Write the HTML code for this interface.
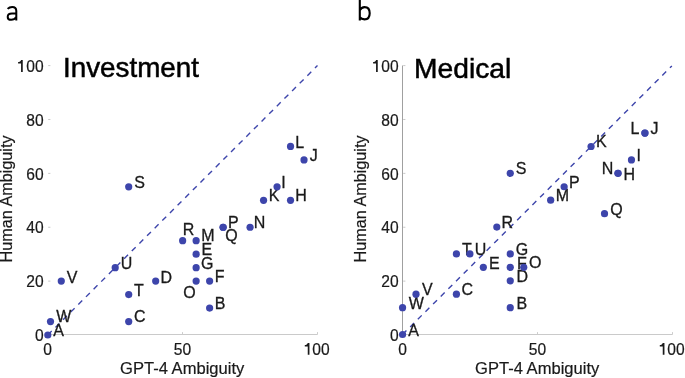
<!DOCTYPE html>
<html><head><meta charset="utf-8"><style>
html,body{margin:0;padding:0;background:#fff;}
svg{display:block;will-change:transform;}
text{font-family:"Liberation Sans",sans-serif;fill:#1a1a1a;}
.lb{stroke:#1a1a1a;stroke-width:0.3px;}
.tk{stroke:#1a1a1a;stroke-width:0.2px;}
.tt{stroke:#000;fill:#000;stroke-width:0.5px;}
</style></head><body>
<svg width="685" height="378" viewBox="0 0 685 378">
<rect width="685" height="378" fill="#fff"/>
<line x1="47.5" y1="334.5" x2="317.5" y2="334.5" stroke="#cacaca" stroke-width="1.15"/>
<line x1="48.2" y1="335.00" x2="50.4" y2="335.00" stroke="#c8c8c8" stroke-width="1"/>
<line x1="48.2" y1="281.12" x2="50.4" y2="281.12" stroke="#c8c8c8" stroke-width="1"/>
<line x1="48.2" y1="227.24" x2="50.4" y2="227.24" stroke="#c8c8c8" stroke-width="1"/>
<line x1="48.2" y1="173.36" x2="50.4" y2="173.36" stroke="#c8c8c8" stroke-width="1"/>
<line x1="48.2" y1="119.48" x2="50.4" y2="119.48" stroke="#c8c8c8" stroke-width="1"/>
<line x1="48.2" y1="65.60" x2="50.4" y2="65.60" stroke="#c8c8c8" stroke-width="1"/>
<line x1="47.5" y1="334.5" x2="47.5" y2="332.1" stroke="#cdcdcd" stroke-width="1"/>
<line x1="182.5" y1="334.5" x2="182.5" y2="332.1" stroke="#cdcdcd" stroke-width="1"/>
<line x1="317.5" y1="334.5" x2="317.5" y2="332.1" stroke="#cdcdcd" stroke-width="1"/>
<text x="43.61" y="341.22" font-size="15.6" text-anchor="end" class="tk">0</text>
<text x="43.61" y="287.34" font-size="15.6" text-anchor="end" class="tk">20</text>
<text x="43.61" y="233.46" font-size="15.6" text-anchor="end" class="tk">40</text>
<text x="43.61" y="179.58" font-size="15.6" text-anchor="end" class="tk">60</text>
<text x="43.61" y="125.70" font-size="15.6" text-anchor="end" class="tk">80</text>
<text x="43.61" y="71.82" font-size="15.6" text-anchor="end" class="tk">00</text>
<path d="M21.05,59.90 L22.75,59.90 L22.75,71.90 L21.05,71.90 L21.05,63.50 L18.10,63.50 L18.10,62.00 C19.60,62.00 20.70,61.20 21.05,59.90 Z" fill="#1a1a1a"/>
<text x="47.50" y="355.00" font-size="15.6" text-anchor="middle" class="tk">0</text>
<text x="182.50" y="355.00" font-size="15.6" text-anchor="middle" class="tk">50</text>
<text x="312.29" y="355.00" font-size="15.6" text-anchor="start" class="tk">00</text>
<path d="M307.75,343.00 L309.45,343.00 L309.45,354.70 L307.75,354.70 L307.75,346.60 L304.80,346.60 L304.80,345.10 C306.30,345.10 307.40,344.30 307.75,343.00 Z" fill="#1a1a1a"/>
<line x1="47.80" y1="335.00" x2="317.50" y2="65.60" stroke="#3d45ab" stroke-width="1.4" stroke-dasharray="5.5 5.29"/>
<text font-size="16.0" text-anchor="start" transform="translate(53.17,335.70) scale(1.0,1.08)" class="lb">A</text>
<text font-size="16.0" text-anchor="start" transform="translate(56.13,321.90) scale(1.0,1.08)" class="lb">W</text>
<text font-size="16.0" text-anchor="start" transform="translate(66.63,282.60) scale(1.0,1.08)" class="lb">V</text>
<text font-size="16.0" text-anchor="start" transform="translate(120.77,269.20) scale(1.0,1.08)" class="lb">U</text>
<text font-size="16.0" text-anchor="start" transform="translate(134.04,295.70) scale(1.0,1.08)" class="lb">T</text>
<text font-size="16.0" text-anchor="start" transform="translate(133.99,322.20) scale(1.0,1.08)" class="lb">C</text>
<text font-size="16.0" text-anchor="start" transform="translate(134.17,187.90) scale(1.0,1.08)" class="lb">S</text>
<text font-size="16.0" text-anchor="start" transform="translate(160.39,282.70) scale(1.0,1.08)" class="lb">D</text>
<text font-size="16.0" text-anchor="start" transform="translate(182.69,235.20) scale(1.0,1.08)" class="lb">R</text>
<text font-size="16.0" text-anchor="start" transform="translate(201.29,241.10) scale(1.0,1.08)" class="lb">M</text>
<text font-size="16.0" text-anchor="start" transform="translate(201.39,254.60) scale(1.0,1.08)" class="lb">E</text>
<text font-size="16.0" text-anchor="start" transform="translate(200.90,268.50) scale(1.0,1.08)" class="lb">G</text>
<text font-size="16.0" text-anchor="start" transform="translate(183.14,298.20) scale(1.0,1.08)" class="lb">O</text>
<text font-size="16.0" text-anchor="start" transform="translate(214.69,281.50) scale(1.0,1.08)" class="lb">F</text>
<text font-size="16.0" text-anchor="start" transform="translate(214.69,308.50) scale(1.0,1.08)" class="lb">B</text>
<text font-size="16.0" text-anchor="start" transform="translate(227.99,227.60) scale(1.0,1.08)" class="lb">P</text>
<text font-size="16.0" text-anchor="start" transform="translate(225.34,240.80) scale(1.0,1.08)" class="lb">Q</text>
<text font-size="16.0" text-anchor="start" transform="translate(253.79,227.50) scale(1.0,1.08)" class="lb">N</text>
<text font-size="16.0" text-anchor="start" transform="translate(268.79,201.40) scale(1.0,1.08)" class="lb">K</text>
<text font-size="16.0" text-anchor="start" transform="translate(295.29,201.40) scale(1.0,1.08)" class="lb">H</text>
<text font-size="16.0" text-anchor="start" transform="translate(281.32,188.10) scale(1.0,1.08)" class="lb">I</text>
<text font-size="16.0" text-anchor="start" transform="translate(295.29,147.90) scale(1.0,1.08)" class="lb">L</text>
<text font-size="16.0" text-anchor="start" transform="translate(309.65,161.20) scale(1.0,1.08)" class="lb">J</text>
<circle cx="47.80" cy="335.00" r="3.6" fill="#3d45ab"/>
<circle cx="50.50" cy="321.53" r="3.6" fill="#3d45ab"/>
<circle cx="61.28" cy="281.12" r="3.6" fill="#3d45ab"/>
<circle cx="115.22" cy="267.65" r="3.6" fill="#3d45ab"/>
<circle cx="128.71" cy="294.59" r="3.6" fill="#3d45ab"/>
<circle cx="128.71" cy="321.53" r="3.6" fill="#3d45ab"/>
<circle cx="128.71" cy="186.83" r="3.6" fill="#3d45ab"/>
<circle cx="155.68" cy="281.12" r="3.6" fill="#3d45ab"/>
<circle cx="182.65" cy="240.71" r="3.6" fill="#3d45ab"/>
<circle cx="196.13" cy="240.71" r="3.6" fill="#3d45ab"/>
<circle cx="196.13" cy="254.18" r="3.6" fill="#3d45ab"/>
<circle cx="196.13" cy="267.65" r="3.6" fill="#3d45ab"/>
<circle cx="196.13" cy="281.12" r="3.6" fill="#3d45ab"/>
<circle cx="209.62" cy="281.12" r="3.6" fill="#3d45ab"/>
<circle cx="209.62" cy="308.06" r="3.6" fill="#3d45ab"/>
<circle cx="223.11" cy="227.24" r="3.6" fill="#3d45ab"/>
<circle cx="223.11" cy="227.24" r="3.6" fill="#3d45ab"/>
<circle cx="250.07" cy="227.24" r="3.6" fill="#3d45ab"/>
<circle cx="263.56" cy="200.30" r="3.6" fill="#3d45ab"/>
<circle cx="290.53" cy="200.30" r="3.6" fill="#3d45ab"/>
<circle cx="277.05" cy="186.83" r="3.6" fill="#3d45ab"/>
<circle cx="290.53" cy="146.42" r="3.6" fill="#3d45ab"/>
<circle cx="304.02" cy="159.89" r="3.6" fill="#3d45ab"/>
<text font-size="16.4" text-anchor="middle" transform="translate(182.20,374.10) scale(1.01,1.0)" class="tk">GPT-4 Ambiguity</text>
<text x="0" y="0" font-size="16.4" text-anchor="middle" class="tk" transform="translate(11.8,198.95) rotate(-90) scale(0.99,1)">Human Ambiguity</text>
<text font-size="27" text-anchor="start" transform="translate(63.00,77.00) scale(1.03,1.0)" class="tt">Investment</text>
<line x1="402.5" y1="334.5" x2="672.5" y2="334.5" stroke="#cacaca" stroke-width="1.15"/>
<line x1="402.5" y1="334.5" x2="402.5" y2="65.5" stroke="#a0a0a0" stroke-width="1"/>
<line x1="403.2" y1="335.00" x2="405.4" y2="335.00" stroke="#c8c8c8" stroke-width="1"/>
<line x1="403.2" y1="281.12" x2="405.4" y2="281.12" stroke="#c8c8c8" stroke-width="1"/>
<line x1="403.2" y1="227.24" x2="405.4" y2="227.24" stroke="#c8c8c8" stroke-width="1"/>
<line x1="403.2" y1="173.36" x2="405.4" y2="173.36" stroke="#c8c8c8" stroke-width="1"/>
<line x1="403.2" y1="119.48" x2="405.4" y2="119.48" stroke="#c8c8c8" stroke-width="1"/>
<line x1="403.2" y1="65.60" x2="405.4" y2="65.60" stroke="#c8c8c8" stroke-width="1"/>
<line x1="402.5" y1="334.5" x2="402.5" y2="332.1" stroke="#cdcdcd" stroke-width="1"/>
<line x1="537.5" y1="334.5" x2="537.5" y2="332.1" stroke="#cdcdcd" stroke-width="1"/>
<line x1="672.5" y1="334.5" x2="672.5" y2="332.1" stroke="#cdcdcd" stroke-width="1"/>
<text x="398.61" y="341.22" font-size="15.6" text-anchor="end" class="tk">0</text>
<text x="398.61" y="287.34" font-size="15.6" text-anchor="end" class="tk">20</text>
<text x="398.61" y="233.46" font-size="15.6" text-anchor="end" class="tk">40</text>
<text x="398.61" y="179.58" font-size="15.6" text-anchor="end" class="tk">60</text>
<text x="398.61" y="125.70" font-size="15.6" text-anchor="end" class="tk">80</text>
<text x="398.61" y="71.82" font-size="15.6" text-anchor="end" class="tk">00</text>
<path d="M376.05,59.90 L377.75,59.90 L377.75,71.90 L376.05,71.90 L376.05,63.50 L373.10,63.50 L373.10,62.00 C374.60,62.00 375.70,61.20 376.05,59.90 Z" fill="#1a1a1a"/>
<text x="402.50" y="355.00" font-size="15.6" text-anchor="middle" class="tk">0</text>
<text x="537.50" y="355.00" font-size="15.6" text-anchor="middle" class="tk">50</text>
<text x="667.29" y="355.00" font-size="15.6" text-anchor="start" class="tk">00</text>
<path d="M662.75,343.00 L664.45,343.00 L664.45,354.70 L662.75,354.70 L662.75,346.60 L659.80,346.60 L659.80,345.10 C661.30,345.10 662.40,344.30 662.75,343.00 Z" fill="#1a1a1a"/>
<line x1="402.55" y1="334.50" x2="671.85" y2="65.90" stroke="#3d45ab" stroke-width="1.4" stroke-dasharray="5.5 5.29"/>
<text font-size="16.0" text-anchor="start" transform="translate(408.37,335.50) scale(1.0,1.05)" class="lb">A</text>
<text font-size="16.0" text-anchor="start" transform="translate(408.63,308.90) scale(1.0,1.05)" class="lb">W</text>
<text font-size="16.0" text-anchor="start" transform="translate(422.03,295.00) scale(1.0,1.05)" class="lb">V</text>
<text font-size="16.0" text-anchor="start" transform="translate(461.59,295.00) scale(1.0,1.05)" class="lb">C</text>
<text font-size="16.0" text-anchor="start" transform="translate(462.04,255.20) scale(1.0,1.05)" class="lb">T</text>
<text font-size="16.0" text-anchor="start" transform="translate(474.87,254.80) scale(1.0,1.05)" class="lb">U</text>
<text font-size="16.0" text-anchor="start" transform="translate(489.09,268.60) scale(1.0,1.05)" class="lb">E</text>
<text font-size="16.0" text-anchor="start" transform="translate(515.80,254.80) scale(1.0,1.05)" class="lb">G</text>
<text font-size="16.0" text-anchor="start" transform="translate(516.99,268.60) scale(1.0,1.05)" class="lb">F</text>
<text font-size="16.0" text-anchor="start" transform="translate(528.94,268.40) scale(1.0,1.05)" class="lb">O</text>
<text font-size="16.0" text-anchor="start" transform="translate(516.49,281.90) scale(1.0,1.05)" class="lb">D</text>
<text font-size="16.0" text-anchor="start" transform="translate(516.49,308.60) scale(1.0,1.05)" class="lb">B</text>
<text font-size="16.0" text-anchor="start" transform="translate(501.49,228.10) scale(1.0,1.05)" class="lb">R</text>
<text font-size="16.0" text-anchor="start" transform="translate(515.87,174.10) scale(1.0,1.05)" class="lb">S</text>
<text font-size="16.0" text-anchor="start" transform="translate(555.79,201.20) scale(1.0,1.05)" class="lb">M</text>
<text font-size="16.0" text-anchor="start" transform="translate(568.89,188.10) scale(1.0,1.05)" class="lb">P</text>
<text font-size="16.0" text-anchor="start" transform="translate(596.09,147.20) scale(1.0,1.05)" class="lb">K</text>
<text font-size="16.0" text-anchor="start" transform="translate(630.39,134.00) scale(1.0,1.05)" class="lb">L</text>
<text font-size="16.0" text-anchor="start" transform="translate(650.45,134.00) scale(1.0,1.05)" class="lb">J</text>
<text font-size="16.0" text-anchor="start" transform="translate(636.52,160.50) scale(1.0,1.05)" class="lb">I</text>
<text font-size="16.0" text-anchor="start" transform="translate(601.79,174.30) scale(1.0,1.05)" class="lb">N</text>
<text font-size="16.0" text-anchor="start" transform="translate(623.39,180.20) scale(1.0,1.05)" class="lb">H</text>
<text font-size="16.0" text-anchor="start" transform="translate(610.34,214.80) scale(1.0,1.05)" class="lb">Q</text>
<circle cx="402.55" cy="334.50" r="3.6" fill="#3d45ab"/>
<circle cx="402.55" cy="307.64" r="3.6" fill="#3d45ab"/>
<circle cx="416.01" cy="294.21" r="3.6" fill="#3d45ab"/>
<circle cx="456.41" cy="294.21" r="3.6" fill="#3d45ab"/>
<circle cx="456.41" cy="253.92" r="3.6" fill="#3d45ab"/>
<circle cx="469.88" cy="253.92" r="3.6" fill="#3d45ab"/>
<circle cx="483.34" cy="267.35" r="3.6" fill="#3d45ab"/>
<circle cx="510.27" cy="253.92" r="3.6" fill="#3d45ab"/>
<circle cx="510.27" cy="267.35" r="3.6" fill="#3d45ab"/>
<circle cx="523.74" cy="267.35" r="3.6" fill="#3d45ab"/>
<circle cx="510.27" cy="280.78" r="3.6" fill="#3d45ab"/>
<circle cx="510.27" cy="307.64" r="3.6" fill="#3d45ab"/>
<circle cx="496.81" cy="227.06" r="3.6" fill="#3d45ab"/>
<circle cx="510.27" cy="173.34" r="3.6" fill="#3d45ab"/>
<circle cx="550.66" cy="200.20" r="3.6" fill="#3d45ab"/>
<circle cx="564.13" cy="186.77" r="3.6" fill="#3d45ab"/>
<circle cx="591.06" cy="146.48" r="3.6" fill="#3d45ab"/>
<circle cx="644.92" cy="133.05" r="3.6" fill="#3d45ab"/>
<circle cx="644.92" cy="133.05" r="3.6" fill="#3d45ab"/>
<circle cx="631.46" cy="159.91" r="3.6" fill="#3d45ab"/>
<circle cx="617.99" cy="173.34" r="3.6" fill="#3d45ab"/>
<circle cx="617.99" cy="173.34" r="3.6" fill="#3d45ab"/>
<circle cx="604.52" cy="213.63" r="3.6" fill="#3d45ab"/>
<text font-size="16.4" text-anchor="middle" transform="translate(537.20,374.10) scale(1.01,1.0)" class="tk">GPT-4 Ambiguity</text>
<text x="0" y="0" font-size="16.4" text-anchor="middle" class="tk" transform="translate(366.4,198.95) rotate(-90) scale(0.99,1)">Human Ambiguity</text>
<text font-size="27" text-anchor="start" transform="translate(414.00,77.90) scale(1.045,1.0)" class="tt">Medical</text>
<path d="M 7.6 8.9 C 9 7.4, 10.8 6.9, 12.2 6.9 C 15 6.9, 16.3 8.4, 16.3 11 L 16.3 20.4 M 16.3 13.5 L 12 13.5 C 9.3 13.5, 7.7 15, 7.7 16.9 C 7.7 18.8, 9.2 19.8, 11.2 19.8 C 13.3 19.8, 15.3 18.6, 16.3 17.2" fill="none" stroke="#000" stroke-width="2"/>
<path d="M 359.8 -1 V 20.5 M 359.8 10.3 C 360.8 8.2, 362.6 7.1, 364.6 7.1 C 367.9 7.1, 369.7 9.8, 369.7 13.3 C 369.7 17.0, 367.8 19.4, 364.6 19.4 C 362.6 19.4, 360.8 18.6, 359.8 17.2" fill="none" stroke="#000" stroke-width="2.1"/>
</svg>
</body></html>
